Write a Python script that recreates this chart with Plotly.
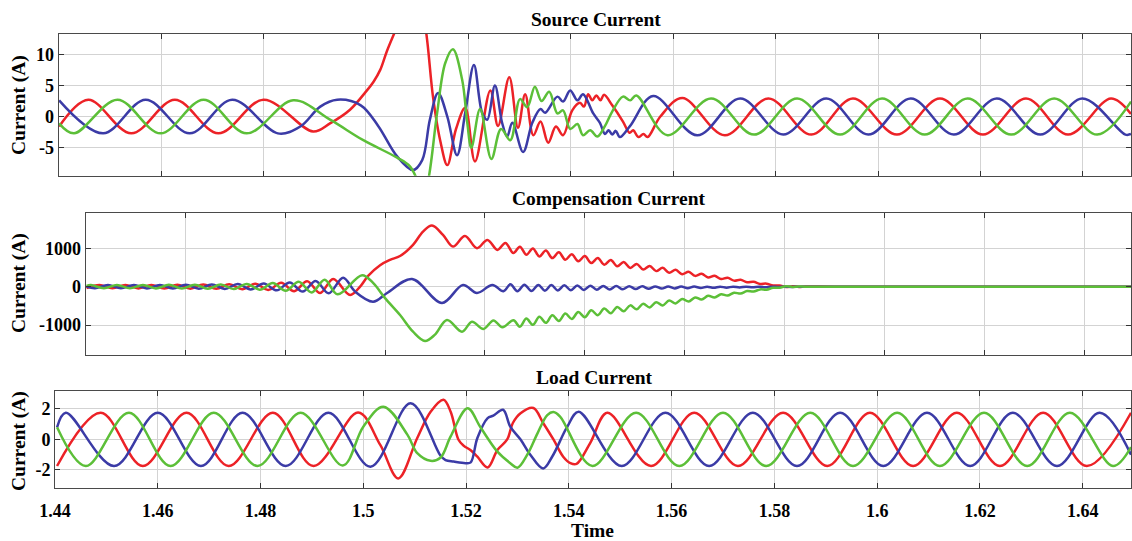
import plotly.graph_objects as go

# ---------------- data ----------------
# Source current (A)
src_red_t = [1.4401, 1.4458, 1.4542, 1.4627, 1.4712, 1.4800, 1.4897, 1.4930, 1.4969, 1.5000, 1.5015, 1.5028,
             1.5041, 1.5061, 1.5077, 1.5092, 1.5106, 1.5117, 1.5131, 1.5145, 1.5159, 1.5176, 1.5194, 1.5213,
             1.5243, 1.5258, 1.5280, 1.5297, 1.5311, 1.5327, 1.5341, 1.5356, 1.5371, 1.5385, 1.5403, 1.5418,
             1.5426, 1.5434, 1.5442, 1.5450, 1.5458, 1.5465, 1.5481, 1.5502, 1.5515, 1.5522, 1.5532, 1.5542,
             1.5550, 1.5575, 1.5618, 1.5701, 1.5786, 1.5870, 1.5951, 1.6037, 1.6121, 1.6205, 1.6289, 1.6371,
             1.6455, 1.6494]
src_red_v = [-1.6, 2.7, -2.7, 2.7, -2.7, 2.7, -2.4, -1.1, 1.1, 4.0, 5.6, 7.5,
             10.5, 14.5, 18.0, 20.0, 18.0, 13.9, 3.2, -3.8, -7.8, -2.0, 1.4, -7.2,
             4.2, -1.5, 6.3, -1.8, 3.6, -3.0, -0.8, -4.2, -1.6, -3.0, 1.0, 2.2,
             1.6, 3.6, 2.6, 3.4, 2.6, 3.5, 1.8, -0.8, -2.6, -2.2, -3.3, -2.8,
             -3.3, 0.0, 3.0, -3.0, 2.9, -2.9, 2.9, -2.9, 2.9, -2.9, 2.9, -2.9,
             2.9, 0.4]

src_blue_t = [1.4401, 1.4487, 1.4570, 1.4656, 1.4739, 1.4828, 1.4872, 1.4911, 1.4944, 1.4990, 1.5024, 1.5061,
              1.5092, 1.5110, 1.5125, 1.5141, 1.5159, 1.5178, 1.5194, 1.5211, 1.5227, 1.5237, 1.5252, 1.5266,
              1.5276, 1.5286, 1.5307, 1.5325, 1.5341, 1.5350, 1.5374, 1.5385, 1.5399, 1.5413, 1.5424, 1.5444,
              1.5457, 1.5467, 1.5474, 1.5481, 1.5488, 1.5496, 1.5516, 1.5561, 1.5647, 1.5731, 1.5815, 1.5899,
              1.5981, 1.6064, 1.6148, 1.6232, 1.6317, 1.6399, 1.6483, 1.6494]
src_blue_v = [2.6, -2.7, 2.7, -2.7, 2.7, -2.7, -1.6, 1.6, 2.7, 1.8, -1.5, -6.4,
              -8.6, -7.0, -0.5, 3.8, 0.0, -6.2, 0.6, 8.3, 0.6, -0.5, 5.0, -1.0,
              -3.2, -1.0, -5.7, -1.0, 1.2, 0.6, 3.2, 2.4, 4.2, 2.6, 3.6, 0.5,
              -1.0, -2.8, -2.2, -2.9, -2.3, -3.3, -1.5, 3.3, -3.0, 2.9, -2.9, 2.9,
              -2.9, 2.9, -2.9, 2.9, -2.9, 2.9, -2.9, -2.8]

src_green_t = [1.4401, 1.4430, 1.4515, 1.4599, 1.4683, 1.4767, 1.4858, 1.4930, 1.4995, 1.5061, 1.5086, 1.5102,
               1.5112, 1.5121, 1.5139, 1.5155, 1.5170, 1.5188, 1.5198, 1.5206, 1.5223, 1.5245, 1.5264, 1.5282,
               1.5301, 1.5315, 1.5330, 1.5343, 1.5358, 1.5374, 1.5385, 1.5399, 1.5413, 1.5424, 1.5438, 1.5452,
               1.5467, 1.5481, 1.5502, 1.5516, 1.5528, 1.5589, 1.5674, 1.5758, 1.5842, 1.5926, 1.6008, 1.6091,
               1.6175, 1.6260, 1.6344, 1.6428, 1.6494]
src_green_v = [-1.1, -2.7, 2.7, -2.7, 2.7, -2.7, 2.6, -0.5, -3.8, -6.6, -8.0, -10.5,
               -12.5, -10.5, 0.5, 8.6, 10.8, 5.9, -1.0, -5.0, 1.2, -6.8, -2.0, -3.8,
               2.8, 1.5, 4.8, 2.5, 4.0, 0.5, 1.0, -2.0, -1.2, -3.0, -2.2, -3.2,
               -1.5, 0.8, 3.2, 2.6, 3.4, -3.0, 2.9, -2.9, 2.9, -2.9, 2.9, -2.9,
               2.9, -2.9, 2.9, -2.9, 2.4]

# Compensation current (A)
comp_red_t = [1.4402, 1.4428, 1.4454, 1.4480, 1.4506, 1.4532, 1.4558, 1.4584, 1.4610, 1.4636, 1.4662, 1.4688,
              1.4714, 1.4740, 1.4766, 1.4792, 1.4818, 1.4844, 1.4870, 1.4896, 1.4930, 1.4950, 1.4966, 1.4990,
              1.5010, 1.5030, 1.5056, 1.5076, 1.5094, 1.5116, 1.5136, 1.5160, 1.5184, 1.5205, 1.5225, 1.5241,
              1.5257, 1.5270, 1.5283, 1.5296, 1.5309, 1.5322, 1.5335, 1.5348, 1.5361, 1.5374, 1.5387, 1.5400,
              1.5413, 1.5426, 1.5439, 1.5452, 1.5465, 1.5478, 1.5491, 1.5504, 1.5517, 1.5530, 1.5543, 1.5556,
              1.5569, 1.5582, 1.5595, 1.5608, 1.5621, 1.5634, 1.5647, 1.5660, 1.5673, 1.5686, 1.5699, 1.5712,
              1.5725, 1.5738, 1.5751, 1.5764, 1.5777, 1.5790, 1.5803, 1.5816, 1.5829, 1.5842, 1.5900, 1.6494]
comp_red_v = [-40, 40, -42, 44, -45, 46, -48, 50, -52, 55, -58, 62,
              -68, 76, -86, 100, -118, 140, -165, 200, -217, 0, 280, 560,
              700, 800, 1090, 1436, 1593, 1350, 1044, 1320, 1003, 1219, 958, 1141,
              876, 1043, 832, 995, 787, 944, 744, 894, 703, 842, 661, 796,
              615, 745, 572, 695, 530, 644, 488, 592, 446, 541, 405, 490,
              363, 438, 322, 387, 281, 334, 240, 283, 198, 232, 157, 180,
              115, 128, 72, 78, 30, 30, -10, 8, -6, 4, 0, 0]

comp_blue_t = [1.4402, 1.4419, 1.4445, 1.4471, 1.4497, 1.4523, 1.4549, 1.4575, 1.4601, 1.4627, 1.4653, 1.4679,
               1.4705, 1.4731, 1.4757, 1.4783, 1.4809, 1.4835, 1.4861, 1.4887, 1.4916, 1.4940, 1.4976, 1.5004,
               1.5054, 1.5114, 1.5156, 1.5184, 1.5215, 1.5237, 1.5251, 1.5265, 1.5279, 1.5293, 1.5307, 1.5320,
               1.5333, 1.5346, 1.5359, 1.5372, 1.5385, 1.5398, 1.5411, 1.5424, 1.5437, 1.5450, 1.5463, 1.5476,
               1.5489, 1.5502, 1.5515, 1.5528, 1.5541, 1.5554, 1.5567, 1.5580, 1.5593, 1.5606, 1.5619, 1.5632,
               1.5645, 1.5658, 1.5671, 1.5684, 1.5697, 1.5710, 1.5723, 1.5736, 1.5749, 1.5762, 1.5775, 1.5788,
               1.5801, 1.5814, 1.5827, 1.5840, 1.5900, 1.6494]
comp_blue_v = [0, -40, 40, -42, 44, -45, 46, -48, 50, -52, 56, -60,
               66, -74, 84, -96, 110, -128, 150, -175, 235, -130, -392, -165,
               200, -426, 44, -165, 44, -120, 60, -120, 50, -112, 45, -105,
               40, -98, 35, -92, 30, -86, 25, -80, 20, -74, 16, -68,
               12, -62, 9, -56, 6, -50, 4, -45, 2, -40, 1, -35,
               0, -30, 0, -26, 0, -22, 0, -18, 0, -14, 0, -10,
               0, -6, 0, -3, 0, 0]

comp_green_t = [1.4402, 1.4411, 1.4437, 1.4463, 1.4489, 1.4515, 1.4541, 1.4567, 1.4593, 1.4619, 1.4645, 1.4671,
                1.4697, 1.4723, 1.4749, 1.4775, 1.4801, 1.4827, 1.4853, 1.4879, 1.4905, 1.4954, 1.4976, 1.5000,
                1.5030, 1.5056, 1.5080, 1.5100, 1.5124, 1.5154, 1.5174, 1.5197, 1.5217, 1.5235,
                1.5257, 1.5270, 1.5283, 1.5296, 1.5309, 1.5322, 1.5335, 1.5348, 1.5361, 1.5374, 1.5387, 1.5400,
                1.5413, 1.5426, 1.5439, 1.5452, 1.5465, 1.5478, 1.5491, 1.5504, 1.5517, 1.5530, 1.5543, 1.5556,
                1.5569, 1.5582, 1.5595, 1.5608, 1.5621, 1.5634, 1.5647, 1.5660, 1.5673, 1.5686, 1.5699, 1.5712,
                1.5725, 1.5738, 1.5751, 1.5764, 1.5777, 1.5790, 1.5803, 1.5816, 1.5829, 1.5842, 1.5900, 1.6494]
comp_green_v = [20, 40, -40, 42, -43, 45, -46, 48, -50, 52, -55, 58,
                -64, 72, -80, 92, -108, 125, -150, 180, -200, 300, 97, -300,
                -740, -1175, -1418, -1250, -870, -1175, -914, -1105, -880, -1060,
                -876, -1043, -832, -995, -787, -944, -744, -894, -703, -842, -661, -796,
                -615, -745, -572, -695, -530, -644, -488, -592, -446, -541, -405, -490,
                -363, -438, -322, -387, -281, -334, -240, -283, -198, -232, -157, -180,
                -115, -128, -72, -78, -30, -30, 10, -8, 6, -4, 0, 0]

# Load current (A)
load_red_t = [1.4404, 1.4489, 1.4571, 1.4656, 1.4738, 1.4824, 1.4903, 1.4990, 1.5033, 1.5068, 1.5105, 1.5131,
              1.5156, 1.5170, 1.5185, 1.5195, 1.5209, 1.5222, 1.5242, 1.5261, 1.5280, 1.5291, 1.5306, 1.5331,
              1.5350, 1.5370, 1.5389, 1.5403, 1.5415, 1.5442, 1.5475, 1.5560, 1.5644, 1.5729, 1.5817, 1.5903,
              1.5986, 1.6070, 1.6155, 1.6239, 1.6323, 1.6408, 1.6494]
load_red_v = [-1.74, 1.75, -1.74, 1.75, -1.74, 1.75, -1.74, 1.76, -0.36, -2.55, 0.1, 1.82,
              2.6, 1.82, 0.0, -0.4, -0.7, -1.13, -1.83, -0.69, 0.0, 1.08, 1.72, 2.06,
              1.08, 0.0, -1.13, -1.55, -1.6, -0.2, 1.75, -1.74, 1.75, -1.74, 1.75, -1.74,
              1.75, -1.74, 1.75, -1.74, 1.75, -1.74, 1.75]

load_blue_t = [1.4404, 1.4421, 1.4515, 1.4600, 1.4684, 1.4765, 1.4849, 1.4932, 1.5014, 1.5092, 1.5150, 1.5160,
               1.5176, 1.5199, 1.5209, 1.5222, 1.5242, 1.5253, 1.5272, 1.5286, 1.5306, 1.5325, 1.5350, 1.5368,
               1.5397, 1.5419, 1.5503, 1.5588, 1.5673, 1.5758, 1.5844, 1.5928, 1.6012, 1.6097, 1.6181, 1.6264,
               1.6350, 1.6433, 1.6494]
load_blue_v = [0.8, 1.75, -1.74, 1.75, -1.74, 1.75, -1.74, 1.75, -1.78, 2.37, -1.05, -1.35,
               -1.45, -1.55, -1.5, 0.1, 1.4, 1.56, 1.95, 0.84, 0.0, -1.0, -1.9, -1.1,
               0.84, 1.82, -1.74, 1.75, -1.74, 1.75, -1.74, 1.75, -1.74, 1.75, -1.74, 1.75,
               -1.74, 1.75, -1.0]

load_green_t = [1.4404, 1.4460, 1.4544, 1.4625, 1.4709, 1.4794, 1.4878, 1.4960, 1.5000, 1.5039, 1.5086, 1.5105,
                1.5131, 1.5150, 1.5170, 1.5203, 1.5228, 1.5261, 1.5286, 1.5300, 1.5319, 1.5339, 1.5358, 1.5370,
                1.5383, 1.5446, 1.5531, 1.5615, 1.5700, 1.5784, 1.5870, 1.5953, 1.6039, 1.6122, 1.6208, 1.6292,
                1.6375, 1.6459, 1.6494]
load_green_v = [0.8, -1.74, 1.75, -1.74, 1.75, -1.74, 1.75, -1.7, 0.84, 2.15, 0.3, -0.9,
                -1.4, -1.2, 0.2, 2.05, 0.8, -0.8, -1.55, -1.85, -1.0, 0.4, 1.6, 1.8,
                1.5, -1.74, 1.75, -1.74, 1.75, -1.74, 1.75, -1.74, 1.75, -1.74, 1.75, -1.74,
                1.75, -1.74, -0.5]

# ticks and labels
time_ticks = [1.44, 1.46, 1.48, 1.50, 1.52, 1.54, 1.56, 1.58, 1.60, 1.62, 1.64]
time_labels = ["1.44", "1.46", "1.48", "1.5", "1.52", "1.54", "1.56", "1.58", "1.6", "1.62", "1.64"]
src_ticks = [-5, 0, 5, 10]
src_labels = ["-5", "0", "5", "10"]
comp_ticks = [-1000, 0, 1000]
comp_labels = ["-1000", "0", "1000"]
load_ticks = [-2, 0, 2]
load_labels = ["-2", "0", "2"]
panel_titles = ["Source Current", "Compensation Current", "Load Current"]

# ---------------- figure ----------------
RED, BLUE, GREEN = "#ec2227", "#3b3ba6", "#5cbf38"
FONT = "Liberation Serif"
W, H = 1132, 541

fig = go.Figure()
panels = [
    (src_red_t, src_red_v, src_blue_t, src_blue_v, src_green_t, src_green_v, "x", "y"),
    (comp_red_t, comp_red_v, comp_blue_t, comp_blue_v, comp_green_t, comp_green_v, "x2", "y2"),
    (load_red_t, load_red_v, load_blue_t, load_blue_v, load_green_t, load_green_v, "x3", "y3"),
]
for rt, rv, bt, bv, gt, gv, xa, ya in panels:
    for tt, vv, col in ((rt, rv, RED), (bt, bv, BLUE), (gt, gv, GREEN)):
        fig.add_trace(go.Scatter(x=tt, y=vv, mode="lines", xaxis=xa, yaxis=ya,
                                 line=dict(color=col, width=2.5, shape="spline", smoothing=1.0),
                                 showlegend=False, hoverinfo="skip"))

tickfont = dict(family=FONT, size=18, color="black", weight="bold")
axis_common = dict(showline=True, linecolor="#4a4a4a", linewidth=1, mirror="ticks",
                   ticks="inside", ticklen=5, tickcolor="#333333", tickwidth=1,
                   showgrid=True, gridcolor="#d3d3d3", gridwidth=1, zeroline=False,
                   tickfont=tickfont, automargin=False)

xr = [1.44, 1.6494]
# pixel boxes of the three plot areas (left, right, top, bottom)
boxes = [(58.6, 1131, 34, 175.7), (85.5, 1131, 212.7, 355), (55, 1131, 390.5, 488.3)]
yranges = [[-9.5, 13.26], [-1782, 1928], [-3.2, 3.21]]
yticks = [(src_ticks, src_labels), (comp_ticks, comp_labels), (load_ticks, load_labels)]

layout = dict(template="none", width=W, height=H, margin=dict(l=0, r=0, t=0, b=0, pad=0),
              paper_bgcolor="white", plot_bgcolor="white", showlegend=False)
for i, (box, yrg, (tv, tl)) in enumerate(zip(boxes, yranges, yticks)):
    l, r, t, b = box
    sx = "" if i == 0 else str(i + 1)
    layout["xaxis" + sx] = dict(axis_common, domain=[l / W, r / W], range=xr,
                                tickvals=time_ticks, ticktext=time_labels,
                                showticklabels=(i == 2), ticklabelstandoff=6,
                                anchor="y" + sx)
    layout["yaxis" + sx] = dict(axis_common, domain=[1 - b / H, 1 - t / H], range=yrg,
                                tickvals=tv, ticktext=tl, anchor="x" + sx)

fig.update_layout(**layout)

titlefont = dict(family=FONT, size=19.5, color="black", weight="bold")
# panel titles
for txt, cx, cy in zip(panel_titles, [596, 609, 594], [19.5, 198.5, 377.5]):
    fig.add_annotation(text=txt, x=cx / W, y=1 - cy / H, xref="paper", yref="paper",
                       showarrow=False, font=titlefont, xanchor="center", yanchor="middle")
# y labels
for cy in [105, 283, 441]:
    fig.add_annotation(text="Current (A)", x=19 / W, y=1 - cy / H, xref="paper", yref="paper",
                       showarrow=False, font=dict(family=FONT, size=19.5, color="black", weight="bold"),
                       textangle=-90, xanchor="center", yanchor="middle")
# x label
fig.add_annotation(text="Time", x=593 / W, y=1 - 530 / H, xref="paper", yref="paper",
                   showarrow=False, font=dict(family=FONT, size=19.5, color="black", weight="bold"),
                   xanchor="center", yanchor="middle")

fig.write_html("out.html")
